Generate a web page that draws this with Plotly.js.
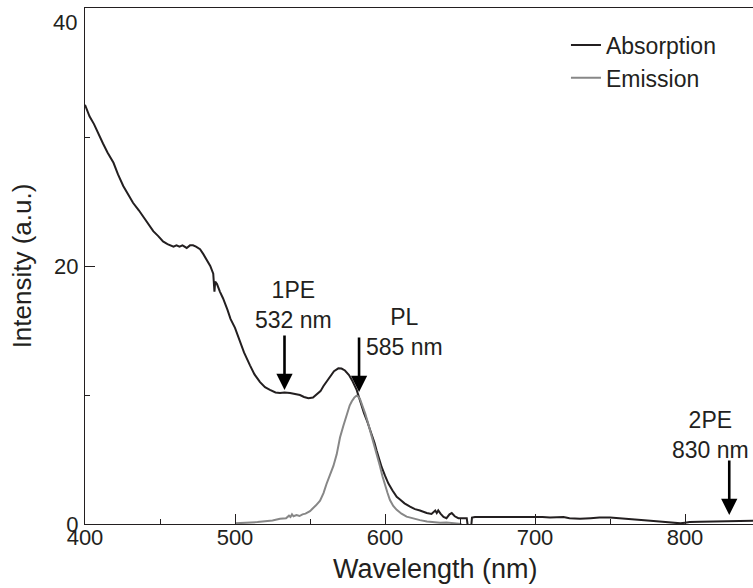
<!DOCTYPE html>
<html>
<head>
<meta charset="utf-8">
<script src="https://cdn.plot.ly/plotly-3.0.1.min.js"></script>
<style>html,body{margin:0;padding:0;background:#fff;overflow:hidden;}#chart{width:753px;height:588px;}</style>
</head>
<body>
<div id="chart"></div>
<script>
// Absorption spectrum (wavelength nm, intensity a.u.)
const absWavelength = [400,403,406,409,412,415,419,422,425.5,429,432,436,439,442,445.5,449,452,455,459,461,463,465,467.8,470,472,474,476.7,479,481,483.5,485.5,486.3,486.8,488,490,492,495,497,500,503,506,510,513,516.7,520,523.3,527,530,533,536.7,540,543.3,546,549,552,554.5,557,559,561,563.3,566,568.9,571,573.3,576,578,580,581.1,583,584.4,586,587.8,589.5,591.1,593,594.4,596,597.8,600,602.2,605,607.8,610,613,616.7,620,623.3,627.8,631,632.5,633.5,634.5,635.5,637,639,641,643,644.5,646.5,648.9,652,654.5,655,656,657.5,658,660,665,670,676.7,682,688,693,699,705,710,715,719,723,730,737,743,750,757,763,770,777,783,790,797,800,803,810,817,823,830,837,846];
const absIntensity = [32.5,31.6,31.0,30.2,29.5,28.8,28.0,27.1,26.2,25.5,24.9,24.3,23.8,23.2,22.7,22.3,21.9,21.7,21.5,21.6,21.5,21.6,21.4,21.6,21.6,21.5,21.3,20.9,20.5,20.0,19.4,18.0,18.8,18.6,18.0,17.5,16.6,15.9,15.2,14.2,13.3,12.3,11.6,11.0,10.6,10.4,10.2,10.15,10.2,10.15,10.05,10.0,9.85,9.75,9.8,10.05,10.3,10.7,11.05,11.45,11.85,12.07,12.05,11.9,11.55,11.15,10.7,10.4,9.7,9.1,8.6,8.06,7.5,7.0,6.3,5.7,5.05,4.4,3.75,3.15,2.6,2.1,1.9,1.6,1.34,1.15,1.05,0.85,0.78,0.95,1.05,0.85,1.05,0.8,0.55,0.45,0.75,0.85,0.6,0.45,0.45,0.45,0.0,-0.15,-0.15,0.5,0.55,0.55,0.6,0.55,0.6,0.55,0.6,0.6,0.55,0.5,0.55,0.55,0.45,0.4,0.45,0.5,0.5,0.45,0.35,0.3,0.25,0.2,0.13,0.05,0.1,0.15,0.18,0.2,0.2,0.23,0.25,0.25];

// Emission spectrum
const emWavelength = [500,505,510,515,520,525,530,534,536,537,538,539,541,543,545,547,550,552,554,556.7,559,561,563.3,565.6,567.8,570,572.2,574.4,576.5,577.8,579.5,581,582,583.3,585,586.7,588.5,590,591.7,593.3,595,596.7,598.3,600,601.7,603.3,605.5,607.8,611,614.4,618,623.3,628,632,636.7,641,646,650,651];
const emIntensity = [0.05,0.08,0.1,0.15,0.22,0.28,0.4,0.45,0.65,0.55,0.75,0.6,0.7,0.62,0.75,0.8,1.0,1.2,1.45,1.8,2.4,3.1,3.8,4.5,5.4,6.7,7.6,8.5,9.2,9.5,9.8,9.95,9.9,9.7,9.2,8.6,7.9,7.3,6.6,6.0,5.2,4.45,3.7,3.0,2.4,1.86,1.4,1.1,0.8,0.57,0.45,0.3,0.2,0.15,0.1,0.12,0.08,0.05,0.0];

const seriesNames = ["Absorption", "Emission"];
const xTickVals = [400,500,600,700,800];
const yTickVals = [0,20,40];
const yTickText = ["0","20",""];
const xTitle = "Wavelength (nm)";
const yTitle = "Intensity (a.u.)";

// Marked wavelengths (arrow tip positions) and labels
const markWavelength = [533, 582.7, 829.5];
const markIntensity = [10.39, 10.23, 0.7];
const markLabels = ["1PE<br>532 nm", "PL<br>585 nm", "2PE<br>830 nm"];
const labelWavelength = [539.3, 612.7, 816.7];
const labelIntensity = [17.0, 14.9, 6.9];

const ink = "#231f20";
const font = "Liberation Sans, Arial, Helvetica, sans-serif";

const traces = [
  {x: absWavelength, y: absIntensity, name: seriesNames[0], type: "scatter", mode: "lines",
   line: {color: ink, width: 2}},
  {x: emWavelength, y: emIntensity, name: seriesNames[1], type: "scatter", mode: "lines",
   line: {color: "#878787", width: 2}}
];

const annotations = [];
for (let i = 0; i < markWavelength.length; i++) {
  annotations.push({x: markWavelength[i], y: markIntensity[i], xref: "x", yref: "y",
    text: "", showarrow: true, ax: 0, ay: -56, arrowhead: 2, arrowsize: 1.25, arrowwidth: 2.6,
    arrowcolor: "#000", standoff: 0, startstandoff: 0});
  annotations.push({x: labelWavelength[i], y: labelIntensity[i], xref: "x", yref: "y",
    text: markLabels[i], showarrow: false, font: {family: font, size: 23, color: ink},
    align: "center"});
}
annotations.push({x: 0, y: 40, xref: "paper", yref: "y", text: "40", showarrow: false,
  xanchor: "right", xshift: -6, yshift: -14, font: {family: font, size: 22, color: ink}});
// x-axis title, placed where the reference draws it
annotations.push({x: 0.5254, y: 0, xref: "paper", yref: "paper", text: xTitle, showarrow: false,
  xanchor: "center", yanchor: "middle", yshift: -45, font: {family: font, size: 27, color: ink}});

const layout = {
  width: 753, height: 588,
  margin: {l: 85, r: 0, t: 8, b: 64},
  paper_bgcolor: "#fff", plot_bgcolor: "#fff",
  font: {family: font, color: ink},
  showlegend: true,
  legend: {x: 0.72, y: 0.97, xanchor: "left", yanchor: "top", bgcolor: "rgba(0,0,0,0)",
    font: {family: font, size: 23, color: ink}, tracegroupgap: 0, itemwidth: 30},
  xaxis: {range: [400, 845.33], showgrid: false, zeroline: false, showline: true, linecolor: ink,
    linewidth: 1, mirror: true, ticks: "inside", ticklen: 10, tickwidth: 1, tickcolor: ink,
    tickvals: xTickVals, tickfont: {family: font, size: 22, color: ink}, ticklabelstandoff: -6,
    minor: {ticks: "inside", ticklen: 5, tickwidth: 1, tickcolor: ink, dtick: 50, tick0: 400, showgrid: false}},
  yaxis: {range: [0, 40], showgrid: false, zeroline: false, showline: true, linecolor: ink,
    linewidth: 1, mirror: false, ticks: "inside", ticklen: 10, tickwidth: 1, tickcolor: ink,
    tickvals: yTickVals, ticktext: yTickText, tickfont: {family: font, size: 22, color: ink},
    ticklabelstandoff: 1,
    minor: {ticks: "inside", ticklen: 5, tickwidth: 1, tickcolor: ink, dtick: 10, tick0: 0, showgrid: false},
    title: {text: yTitle, font: {family: font, size: 26, color: ink}, standoff: 15}},
  annotations: annotations
};

Plotly.newPlot("chart", traces, layout, {displayModeBar: false, staticPlot: true});
</script>
</body>
</html>
